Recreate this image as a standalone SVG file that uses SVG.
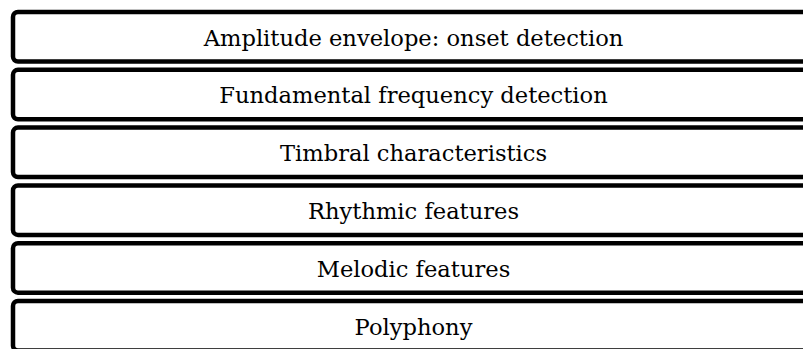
<svg xmlns="http://www.w3.org/2000/svg" width="803" height="349" viewBox="0 0 803 349">
<style>
.box{fill:#fff;stroke:#000;stroke-width:4.5}
.lbl{font-family:"DejaVu Serif","Liberation Serif",serif;font-size:22.6px;fill:#000;text-anchor:middle}
</style>
<rect width="803" height="349" fill="#fff"/>
<g id="connectors"></g>
<g id="n1"><rect class="box" x="13" y="12" width="810" height="49.5" rx="5"/><text class="lbl" x="413.5" y="45.5">Amplitude envelope: onset detection</text></g>
<g id="n2"><rect class="box" x="13" y="69.8" width="810" height="49.5" rx="5"/><text class="lbl" x="413.5" y="103.3">Fundamental frequency detection</text></g>
<g id="n3"><rect class="box" x="13" y="127.6" width="810" height="49.5" rx="5"/><text class="lbl" x="413.5" y="161.1">Timbral characteristics</text></g>
<g id="n4"><rect class="box" x="13" y="185.4" width="810" height="49.5" rx="5"/><text class="lbl" x="413.5" y="218.9">Rhythmic features</text></g>
<g id="n5"><rect class="box" x="13" y="243.2" width="810" height="49.5" rx="5"/><text class="lbl" x="413.5" y="276.7">Melodic features</text></g>
<g id="n6"><rect class="box" x="13" y="301" width="810" height="49.5" rx="5"/><text class="lbl" x="413.5" y="334.5">Polyphony</text></g>
</svg>
